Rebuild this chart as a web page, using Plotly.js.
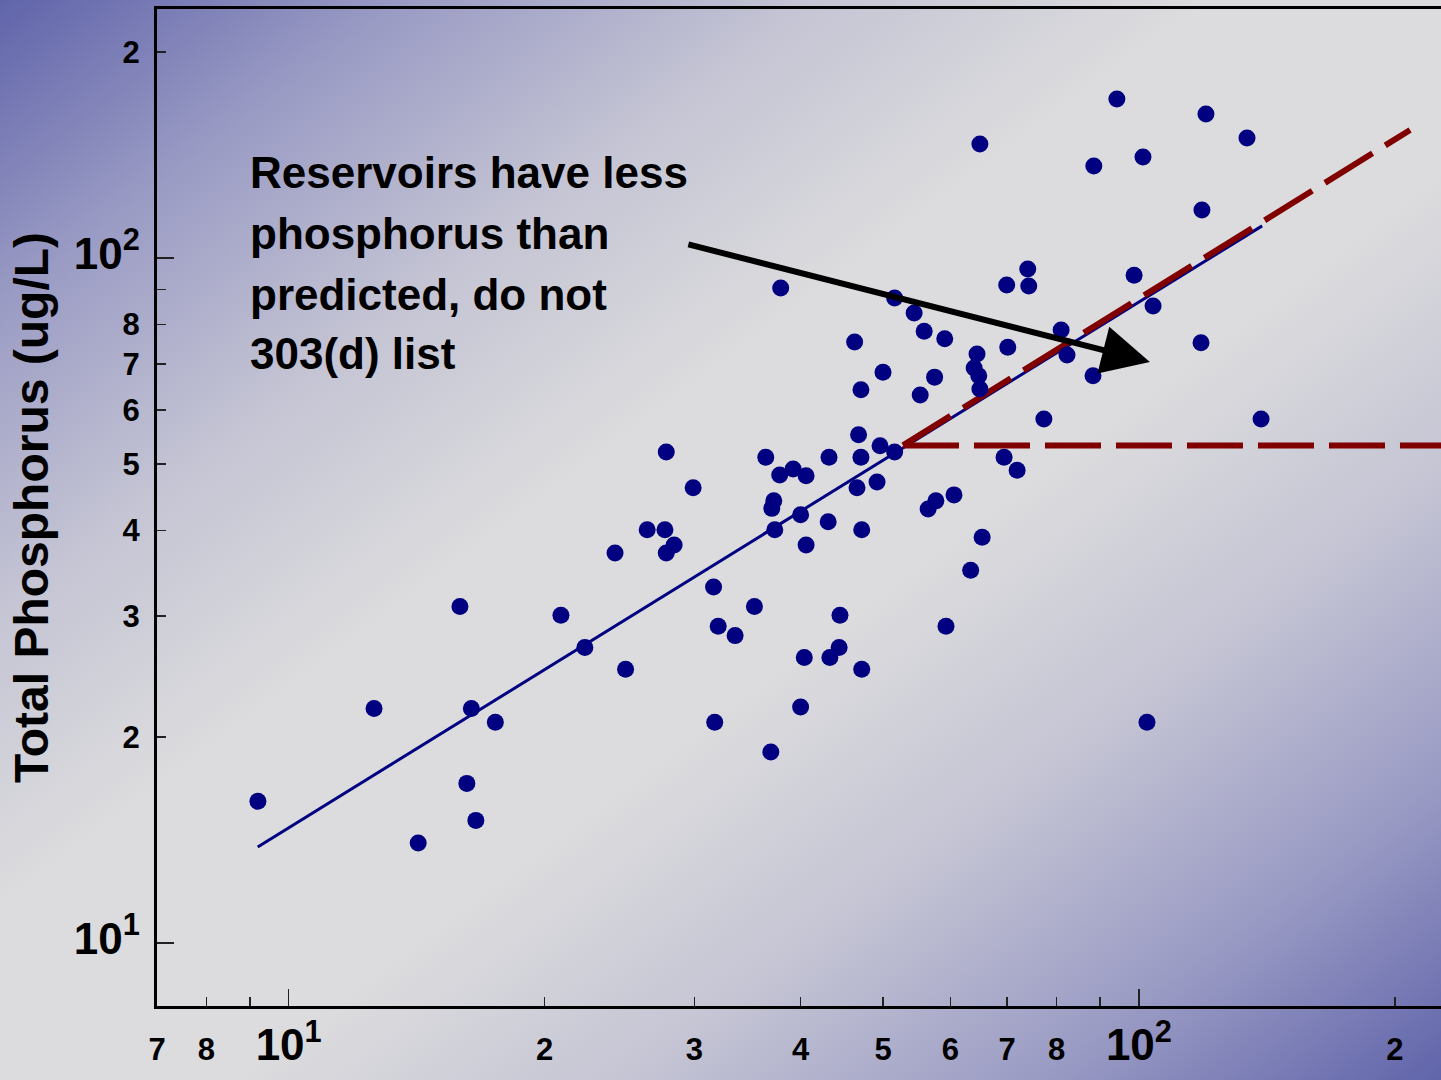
<!DOCTYPE html>
<html><head><meta charset="utf-8">
<script src="https://cdn.plot.ly/plotly-3.0.1.min.js"></script>
<style>
html,body{margin:0;padding:0;width:1441px;height:1080px;overflow:hidden;}
body{background:linear-gradient(to bottom right,#6064aa 0%,#9a9bc4 14%,#c4c4d4 28%,#dcdcde 42%,#dcdcde 58%,#c4c4d4 72%,#9a9bc4 86%,#6064aa 100%);}
#chart{width:1441px;height:1080px;}
</style></head><body><div id="chart"></div><script>
// Observed lake / reservoir data (x: predictor, y: Total Phosphorus ug/L)
const obsX = [9.20,12.6,14.2,15.9,16.2,16.4,16.6,17.5,20.9,22.3,24.2,24.9,26.4,27.7,27.8,27.8,28.4,29.9,31.6,31.7,
  32.0,33.5,35.3,36.4,36.9,37.0,37.2,37.3,37.9,37.8,39.2,40.0,40.0,40.6,40.4,40.6,43.1,43.2,43.3,44.4,
  44.5,46.3,46.6,46.8,47.1,47.1,47.2,47.2,49.2,49.6,50.0,51.6,51.6,54.4,55.3,55.9,56.5,57.5,57.7,59.1,
  59.3,60.6,63.4,64.0,64.5,64.8,65.0,65.0,65.4,69.4,69.9,70.1,71.9,74.0,74.2,77.3,81.0,82.3,88.3,88.5,
  94.2,98.7,101.1,102.2,103.9,118.3,118.6,119.9,134.0,139.2];
const obsY = [16.1,22.0,14.0,31.0,17.1,22.0,15.1,21.0,30.1,27.0,37.1,25.1,40.1,40.1,52.1,37.1,38.1,46.2,33.1,21.0,
  29.0,28.1,31.0,51.2,19.0,43.1,44.2,40.1,90.4,48.2,49.2,42.2,22.1,48.1,26.1,38.1,41.2,51.2,26.1,27.0,
  30.1,75.4,46.2,55.2,64.2,51.2,40.1,25.1,47.1,53.2,68.1,52.1,87.4,83.1,63.1,78.2,43.0,67.0,44.2,76.2,
  29.0,45.1,35.0,69.1,72.4,67.3,64.4,146.7,39.1,51.2,91.3,74.1,49.0,96.4,91.0,58.2,78.5,72.2,67.3,136.2,
  170.7,94.4,140.4,21.0,85.1,75.2,117.5,162.3,149.7,58.2];

// Regression line
const fitX = [9.195, 139.6];
const fitY = [13.81, 111.4];
// Criterion lines (red dashed)
const critDiagX = [52.78, 208.4];
const critDiagY = [53.26, 153.8];
const critFlatX = [52.78, 260];
const critFlatY = [53.26, 53.26];

// Arrow tip (data coords)
const arrowTipX = 103.0;
const arrowTipY = 70.5;

// Tick labels
const xTickVals = [7,8,10,20,30,40,50,60,70,80,100,200];
const xTickText = ['7','8','<span style="font-size:44px">10<sup>1</sup></span>','2','3','4','5','6','7','8','<span style="font-size:44px">10<sup>2</sup></span>','2'];
const xMinorVals = [9,90];
const yTickVals = [10,20,30,40,50,60,70,80,100,200];
const yTickText = ['<span style="font-size:44px">10<sup>1</sup></span>','2','3','4','5','6','7','8','<span style="font-size:44px">10<sup>2</sup></span>','2'];
const yMinorVals = [90];
const majorTicks = [10,100];

const noteLines = ['Reservoirs have less','phosphorus than','predicted, do not','303(d) list'];

const FONT = 'Liberation Sans, Arial, sans-serif';
const xRange = [Math.log10(7), Math.log10(226.6)];
const yRange = [0.908, 2.3635];

const traces = [
  {x: fitX, y: fitY, mode:'lines', line:{color:'#000080', width:3}, hoverinfo:'skip', showlegend:false},
  {x: critDiagX, y: critDiagY, mode:'lines', line:{color:'#800000', width:6, dash:'56px,15px'}, hoverinfo:'skip', showlegend:false},
  {x: critFlatX, y: critFlatY, mode:'lines', line:{color:'#800000', width:6, dash:'56px,15px'}, hoverinfo:'skip', showlegend:false},
  {x: obsX, y: obsY, mode:'markers', marker:{color:'#000080', size:17, line:{width:0}}, showlegend:false},
  {x: [], y: [], xaxis:'x2', yaxis:'y2', hoverinfo:'skip', showlegend:false}
];

const annotations = noteLines.map((t,i)=>({
  text: t, xref:'paper', yref:'paper', x: 0.0709, y: [0.8365,0.7753,0.7141,0.654][i],
  xanchor:'left', yanchor:'middle', showarrow:false,
  font:{family:FONT, size:44, weight:'bold', color:'black'}
}));
annotations.push({
  text:'', x: Math.log10(arrowTipX), y: Math.log10(arrowTipY), xref:'x', yref:'y',
  ax: -463, ay: -118, showarrow:true, arrowhead:2, arrowwidth:6, arrowsize:1.6,
  arrowcolor:'black', standoff:0
});

const tickFont = {family:FONT, size:31, weight:'bold', color:'black'};
const layout = {
  width:1441, height:1080,
  margin:{l:157, r:0, t:9, b:74},
  paper_bgcolor:'rgba(0,0,0,0)', plot_bgcolor:'rgba(0,0,0,0)',
  xaxis:{type:'log', range:xRange, tickmode:'array', tickvals:xTickVals, ticktext:xTickText,
    ticks:'inside', ticklen:9, tickwidth:1.5, tickcolor:'#222', tickfont:tickFont,
    minor:{tickmode:'array', tickvals:xMinorVals, ticks:'inside', ticklen:9, tickwidth:1.5, tickcolor:'#222', showgrid:false},
    showline:true, linewidth:3, linecolor:'black', mirror:true, showgrid:false, zeroline:false,
    ticklabelstandoff:14},
  yaxis:{type:'log', range:yRange, tickmode:'array', tickvals:yTickVals, ticktext:yTickText,
    ticks:'inside', ticklen:9, tickwidth:1.5, tickcolor:'#222', tickfont:tickFont,
    minor:{tickmode:'array', tickvals:yMinorVals, ticks:'inside', ticklen:9, tickwidth:1.5, tickcolor:'#222', showgrid:false},
    showline:true, linewidth:3, linecolor:'black', showgrid:false, zeroline:false,
    ticklabelstandoff:8,
    title:{text:'Total Phosphorus (ug/L)', font:{family:FONT, size:48, weight:'bold', color:'black'}, standoff:10}},
  xaxis2:{type:'log', range:xRange, overlaying:'x', anchor:'y', side:'bottom', tickmode:'array', tickvals:majorTicks,
    ticks:'inside', ticklen:17, tickwidth:1.5, tickcolor:'#222', showticklabels:false, showline:false, showgrid:false, zeroline:false},
  yaxis2:{type:'log', range:yRange, overlaying:'y', anchor:'x', side:'left', tickmode:'array', tickvals:majorTicks,
    ticks:'inside', ticklen:17, tickwidth:1.5, tickcolor:'#222', showticklabels:false, showline:false, showgrid:false, zeroline:false},
  annotations: annotations,
  showlegend:false
};

Plotly.newPlot('chart', traces, layout, {displayModeBar:false, staticPlot:true});
</script></body></html>
